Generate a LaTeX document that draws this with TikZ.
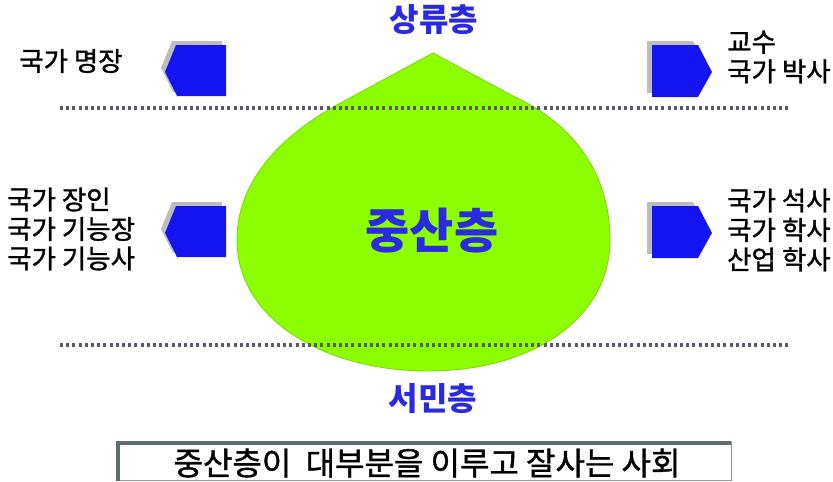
\documentclass[tikz,border=0pt]{standalone}
\usepackage{fontspec}
\newfontfamily\kr{Noto Sans CJK KR}
\newfontfamily\krm{Noto Sans CJK KR}[FakeBold=1.2]
\definecolor{dropgreen}{HTML}{8CFF00}
\definecolor{dropedge}{HTML}{78D800}
\definecolor{titleblue}{HTML}{2A2AE0}
\definecolor{penblue}{HTML}{1414F0}
\definecolor{shadowgray}{HTML}{BDBDBD}
\definecolor{dotgray}{HTML}{5A5A6E}
\definecolor{boxdark}{HTML}{5E6E6E}
\tikzset{
  dotline/.style={dotgray, line width=3.2pt, dash pattern=on 3pt off 3.2pt},
  title/.style={text=titleblue, font=\kr\bfseries\fontsize{32}{36}\selectfont, inner sep=0pt},
  bigtitle/.style={text=titleblue, font=\kr\bfseries\fontsize{48}{54}\selectfont, inner sep=0pt},
  label/.style={text=black, font=\krm\fontsize{26.5}{29.5}\selectfont, inner sep=0pt, align=left},
  pen/.style={fill=penblue},
  penshadow/.style={fill=shadowgray},
}
\begin{document}
\begin{tikzpicture}[x=1pt,y=-1pt]
\useasboundingbox (0,0) rectangle (833,482);
% drop
\path[fill=dropgreen, draw=dropedge, line width=0.8pt]
  (433,53) -- (335,106) .. controls (275,140) and (237,185) .. (237,240)
  .. controls (237,320) and (325,370) .. (425,371)
  .. controls (530,372) and (610,320) .. (610,240)
  .. controls (610,175) and (575,125) .. (515,97) -- cycle;
% dotted lines
\draw[dotline] (60,108) -- (790,108);
\draw[dotline] (60,345) -- (790,345);
% left pentagons
\foreach \yy in {45,206}{
  \fill[penshadow] (172,\yy-4) -- (222,\yy-4) -- (222,\yy+47) -- (173,\yy+47) -- (161,\yy+23) -- cycle;
  \fill[pen] (176,\yy) -- (226,\yy) -- (226,\yy+51) -- (177,\yy+51) -- (165,\yy+27) -- cycle;
}
% right pentagons
\foreach \yy in {45,206}{
  \fill[penshadow] (647,\yy-4) -- (693,\yy-4) -- (707,\yy+23) -- (693,\yy+48) -- (647,\yy+48) -- cycle;
  \fill[pen] (652,\yy) -- (698,\yy) -- (712,\yy+27) -- (698,\yy+52) -- (652,\yy+52) -- cycle;
}
% titles
\node[title] (upper) at (434,20) {상류층};
\node[bigtitle] (middle) at (432,231) {중산층};
\node[title] (lower) at (433,399) {서민층};
% labels
\node[label, anchor=west] (ltopl) at (19,61) {국가 명장};
\node[label, anchor=west] (lmidl) at (7,229) {국가 장인\\국가 기능장\\국가 기능사};
\node[label, anchor=west] (rtopl) at (727,57) {교수\\국가 박사};
\node[label, anchor=west] (rmidl) at (727,230) {국가 석사\\국가 학사\\산업 학사};
% bottom box
\draw[fill=white, draw=gray!80, line width=1pt] (117,441) rectangle (731,480);
\draw[boxdark, line width=4pt] (118,481) -- (118,443) -- (731,443);
\node[text=black, font=\krm\fontsize{32}{34}\selectfont, inner sep=0pt] (slogan) at (427,463) {중산층이\ \ 대부분을 이루고 잘사는 사회};
\end{tikzpicture}
\end{document}
